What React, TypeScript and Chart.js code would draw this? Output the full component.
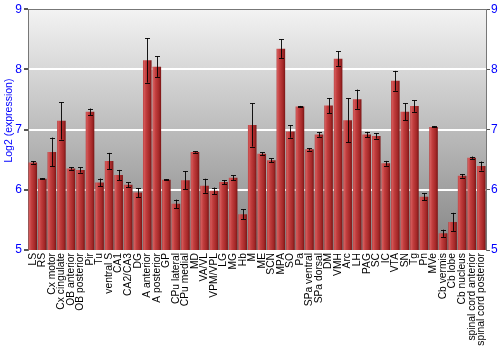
import React, { useEffect, useRef } from "react";
import { Chart, registerables } from "chart.js";

Chart.register(...registerables);

const categories = [
  "LS", "RS", "Cx motor", "Cx cingulate", "OB anterior", "OB posterior", "Pir", "Tu",
  "ventral S", "CA1", "CA2/CA3", "DG", "A anterior", "A posterior", "GP", "CPu lateral",
  "CPu medial", "MD", "VA/VL", "VPM/VPL", "LG", "MG", "Hb", "M", "ME", "SCN", "MPA", "SO",
  "Pa", "SPa ventral", "SPa dorsal", "DM", "VMH", "Arc", "LH", "PAG", "SC", "IC", "VTA",
  "SN", "Tg", "Pn", "MVe", "Cb vermis", "Cb lobe", "Cb nucleus", "spinal cord anterior",
  "spinal cord posterior",
];

const expression = [
  6.455, 6.183, 6.628, 7.145, 6.355, 6.33, 7.295, 6.122,
  6.478, 6.245, 6.083, 5.955, 8.15, 8.045, 6.167, 5.767,
  6.16, 6.628, 6.067, 5.983, 6.128, 6.2, 5.595, 7.078, 6.6, 6.49, 8.345, 6.97,
  7.383, 6.672, 6.917, 7.4, 8.178, 7.155, 7.505, 6.917, 6.895, 6.44, 7.81,
  7.295, 7.39, 5.883, 7.045, 5.278, 5.467, 6.233, 6.533,
  6.395,
];

const errors = [
  0.02, 0.01, 0.24, 0.31, 0.02, 0.045, 0.055, 0.065,
  0.135, 0.085, 0.04, 0.075, 0.37, 0.17, 0.01, 0.07,
  0.147, 0.01, 0.117, 0.055, 0.035, 0.04, 0.08, 0.36, 0.02, 0.03, 0.155, 0.105,
  0.01, 0.02, 0.035, 0.125, 0.12, 0.365, 0.16, 0.045, 0.045, 0.04, 0.165,
  0.14, 0.095, 0.06, 0.01, 0.06, 0.15, 0.03, 0.02,
  0.075,
];

const yTitle = "Log2 (expression)";
const yMin = 5;
const yMax = 9;

const FONT = "'Liberation Sans', Arial, sans-serif";

const backgroundPlugin = {
  id: "bgGradient",
  beforeDraw(chart: any) {
    const { ctx, chartArea } = chart;
    if (!chartArea) return;
    const g = ctx.createLinearGradient(0, chartArea.top, 0, chartArea.bottom);
    g.addColorStop(0, "#f3f3f3");
    g.addColorStop(1, "#858585");
    ctx.save();
    ctx.fillStyle = g;
    ctx.fillRect(chartArea.left, chartArea.top, chartArea.right - chartArea.left, chartArea.bottom - chartArea.top);
    ctx.restore();
  },
  beforeDatasetsDraw(chart: any) {
    const { ctx, chartArea } = chart;
    ctx.save();
    ctx.strokeStyle = "#777777";
    ctx.lineWidth = 1;
    ctx.beginPath();
    ctx.moveTo(chartArea.left, Math.round(chartArea.top) + 0.5);
    ctx.lineTo(chartArea.right, Math.round(chartArea.top) + 0.5);
    ctx.stroke();
    ctx.restore();
  },
  afterDraw(chart: any) {
    const { ctx, chartArea } = chart;
    ctx.save();
    ctx.translate(9, (chartArea.top + chartArea.bottom) / 2 - 9);
    ctx.rotate(-Math.PI / 2);
    ctx.fillStyle = "#0000ff";
    ctx.font = `10.5px ${FONT}`;
    ctx.textAlign = "center";
    ctx.textBaseline = "middle";
    ctx.fillText(yTitle, 0, 0);
    ctx.restore();
  },
};

const errorBarPlugin = {
  id: "errorBars",
  afterDatasetsDraw(chart: any) {
    const { ctx } = chart;
    const meta = chart.getDatasetMeta(0);
    const yScale = chart.scales.y;
    ctx.save();
    ctx.strokeStyle = "rgba(0,0,0,0.9)";
    ctx.lineWidth = 1;
    meta.data.forEach((bar: any, i: number) => {
      const v = expression[i];
      const e = errors[i];
      const x = Math.round(bar.x) + 0.5;
      const yTop = yScale.getPixelForValue(v + e);
      const yBot = yScale.getPixelForValue(v - e);
      ctx.beginPath();
      ctx.moveTo(x, yTop);
      ctx.lineTo(x, yBot);
      ctx.moveTo(x - 2.5, Math.round(yTop) + 0.5);
      ctx.lineTo(x + 2.5, Math.round(yTop) + 0.5);
      ctx.moveTo(x - 2.5, Math.round(yBot) + 0.5);
      ctx.lineTo(x + 2.5, Math.round(yBot) + 0.5);
      ctx.stroke();
    });
    ctx.restore();
  },
};

function barGradient(context: any) {
  const chart = context.chart;
  const { ctx, chartArea } = chart;
  if (!chartArea || context.type !== "data") return "#b33333";
  const xScale = chart.scales.x;
  const cx = xScale.getPixelForValue(context.dataIndex);
  const w = (chartArea.right - chartArea.left) / categories.length * 0.9;
  const g = ctx.createLinearGradient(cx - w / 2, 0, cx + w / 2, 0);
  g.addColorStop(0, "#b53a3a");
  g.addColorStop(0.12, "#d45a5a");
  g.addColorStop(0.35, "#c23e3e");
  g.addColorStop(0.75, "#a42828");
  g.addColorStop(1, "#7a1515");
  return g;
}

export default function App() {
  const canvasRef = useRef<HTMLCanvasElement | null>(null);

  useEffect(() => {
    document.body.style.margin = "0";
    const canvas = canvasRef.current;
    if (!canvas) return;
    const chart = new Chart(canvas, {
      type: "bar",
      data: {
        labels: categories,
        datasets: [
          {
            label: yTitle,
            data: expression,
            backgroundColor: barGradient,
            borderWidth: 0,
            barPercentage: 0.9,
            categoryPercentage: 1.0,
          },
        ],
      },
      options: {
        animation: false,
        responsive: false,
        maintainAspectRatio: false,
        layout: { padding: { top: 9, left: 0, right: 0, bottom: 0 } },
        plugins: {
          legend: { display: false },
          tooltip: { enabled: false },
        },
        scales: {
          x: {
            grid: { display: false, drawTicks: false },
            border: { display: false },
            ticks: {
              autoSkip: false,
              minRotation: 90,
              maxRotation: 90,
              padding: 3,
              color: "#000000",
              font: { family: FONT, size: 10.3 },
            },
            afterFit(scale: any) {
              scale.height = 100;
            },
          },
          y: {
            position: "left",
            min: yMin,
            max: yMax,
            ticks: {
              stepSize: 1,
              color: "#0000ff",
              padding: 2,
              font: { family: FONT, size: 12 },
            },
            grid: {
              color: (c: any) => (c.tick && (c.tick.value === yMin || c.tick.value === yMax) ? "rgba(0,0,0,0)" : "#ffffff"),
              lineWidth: 2,
              tickColor: "#555555",
              tickLength: 4,
            },
            border: { display: true, color: "#777777", width: 1 },
            afterFit(scale: any) {
              scale.width = 28;
            },
          },
          y2: {
            position: "right",
            min: yMin,
            max: yMax,
            ticks: {
              stepSize: 1,
              color: "#0000ff",
              padding: 1,
              font: { family: FONT, size: 12 },
            },
            grid: {
              drawOnChartArea: false,
              tickColor: "#555555",
              tickLength: 4,
            },
            border: { display: true, color: "#777777", width: 1 },
            afterFit(scale: any) {
              scale.width = 14;
            },
          },
        },
      } as any,
      plugins: [backgroundPlugin, errorBarPlugin],
    });
    return () => chart.destroy();
  }, []);

  return (
    <div style={{ position: "absolute", left: 0, top: 0, width: 500, height: 350 }}>
      <canvas ref={canvasRef} width={500} height={350} style={{ width: 500, height: 350 }} />
    </div>
  );
}
